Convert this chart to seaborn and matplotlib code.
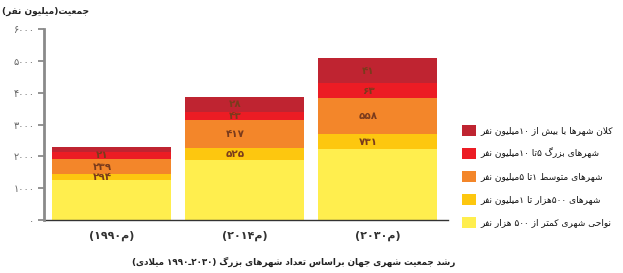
import matplotlib
matplotlib.use("Agg")
from matplotlib import pyplot as plt
from matplotlib.patches import Patch
import pandas as pd
import seaborn as sns

# ---- data (million people) ----
years = ["1990", "2014", "2030"]
under_500k = [1258, 1887, 2223]
k500_to_1m = [189, 388, 482]
m1_to_5 = [461, 870, 1122]
m5_to_10 = [241, 262, 472]
over_10m = [157, 470, 786]

# number of cities written on the bars (None = no label)
count_500k_1m = [294, 525, 731]
count_1_5m = [239, 417, 558]
count_5_10m = [21, 43, 63]
count_over_10m = [None, 28, 41]

legend_labels = [
    "کلان شهرها با بیش از ۱۰میلیون نفر",
    "شهرهای بزرگ ۵تا ۱۰میلیون نفر",
    "شهرهای متوسط ۱تا ۵میلیون نفر",
    "شهرهای ۵۰۰هزار تا ۱میلیون نفر",
    "نواحی شهری کمتر از ۵۰۰ هزار نفر",
]
year_labels = ["(۱۹۹۰م)", "(۲۰۱۴م)", "(۲۰۳۰م)"]
y_title = "جمعیت(میلیون نفر)"
chart_title = "رشد جمعیت شهری جهان براساس تعداد شهرهای بزرگ (۲۰۳۰ـ۱۹۹۰ میلادی)"
y_ticks = [0, 1000, 2000, 3000, 4000, 5000, 6000]

colors = ["#BF2431", "#EC1C24", "#F3862A", "#FDC70F", "#FFEE4E"]  # top -> bottom

# ---- minimal persian shaping + visual ordering (matplotlib has no bidi) ----
FORMS = {  # isolated, final, initial, medial
    "ا": (0xFE8D, 0xFE8E, None, None), "آ": (0xFE81, 0xFE82, None, None),
    "ب": (0xFE8F, 0xFE90, 0xFE91, 0xFE92), "پ": (0xFB56, 0xFB57, 0xFB58, 0xFB59),
    "ت": (0xFE95, 0xFE96, 0xFE97, 0xFE98), "ث": (0xFE99, 0xFE9A, 0xFE9B, 0xFE9C),
    "ج": (0xFE9D, 0xFE9E, 0xFE9F, 0xFEA0), "چ": (0xFB7A, 0xFB7B, 0xFB7C, 0xFB7D),
    "ح": (0xFEA1, 0xFEA2, 0xFEA3, 0xFEA4), "خ": (0xFEA5, 0xFEA6, 0xFEA7, 0xFEA8),
    "د": (0xFEA9, 0xFEAA, None, None), "ذ": (0xFEAB, 0xFEAC, None, None),
    "ر": (0xFEAD, 0xFEAE, None, None), "ز": (0xFEAF, 0xFEB0, None, None),
    "ژ": (0xFB8A, 0xFB8B, None, None),
    "س": (0xFEB1, 0xFEB2, 0xFEB3, 0xFEB4), "ش": (0xFEB5, 0xFEB6, 0xFEB7, 0xFEB8),
    "ص": (0xFEB9, 0xFEBA, 0xFEBB, 0xFEBC), "ض": (0xFEBD, 0xFEBE, 0xFEBF, 0xFEC0),
    "ط": (0xFEC1, 0xFEC2, 0xFEC3, 0xFEC4), "ظ": (0xFEC5, 0xFEC6, 0xFEC7, 0xFEC8),
    "ع": (0xFEC9, 0xFECA, 0xFECB, 0xFECC), "غ": (0xFECD, 0xFECE, 0xFECF, 0xFED0),
    "ف": (0xFED1, 0xFED2, 0xFED3, 0xFED4), "ق": (0xFED5, 0xFED6, 0xFED7, 0xFED8),
    "ک": (0xFB8E, 0xFB8F, 0xFB90, 0xFB91), "گ": (0xFB92, 0xFB93, 0xFB94, 0xFB95),
    "ل": (0xFEDD, 0xFEDE, 0xFEDF, 0xFEE0), "م": (0xFEE1, 0xFEE2, 0xFEE3, 0xFEE4),
    "ن": (0xFEE5, 0xFEE6, 0xFEE7, 0xFEE8), "ه": (0xFEE9, 0xFEEA, 0xFEEB, 0xFEEC),
    "و": (0xFEED, 0xFEEE, None, None),
    "ی": (0xFBFC, 0xFBFD, 0xFBFE, 0xFBFF),
}
TATWEEL = "ـ"
DIGITS = "۰۱۲۳۴۵۶۷۸۹0123456789"


def joins_next(c):
    return c == TATWEEL or (c in FORMS and FORMS[c][2] is not None)


def joins_prev(c):
    return c == TATWEEL or c in FORMS


def shape(text):
    out = []
    i = 0
    while i < len(text):
        c = text[i]
        prev = text[i - 1] if i > 0 else ""
        if c == "ل" and i + 1 < len(text) and text[i + 1] == "ا":
            out.append(chr(0xFEFC if joins_next(prev) else 0xFEFB))
            i += 2
            continue
        if c not in FORMS:
            out.append(c)
            i += 1
            continue
        nxt = text[i + 1] if i + 1 < len(text) else ""
        p = joins_next(prev)
        n = FORMS[c][2] is not None and joins_prev(nxt)
        iso, fin, ini, med = FORMS[c]
        if p and n:
            out.append(chr(med))
        elif p:
            out.append(chr(fin))
        elif n:
            out.append(chr(ini))
        else:
            out.append(chr(iso))
        i += 1
    return "".join(out)


def fa(text):
    s = shape(text)
    runs, cur = [], ""
    for ch in s:
        if cur and ((ch in DIGITS) != (cur[-1] in DIGITS)):
            runs.append(cur)
            cur = ""
        cur += ch
    runs.append(cur)
    mirror = str.maketrans("()", ")(")
    res = []
    for r in reversed(runs):
        if r[0] in DIGITS:
            res.append(r)
        else:
            res.append(r[::-1].translate(mirror))
    return "".join(res)


def fa_num(n):
    return str(n).translate(str.maketrans("0123456789", "۰۱۲۳۴۵۶۷۸۹"))


# ---- plot ----
sns.set_style("white")
plt.rcParams["font.family"] = ["DejaVu Sans"]

layers = [under_500k, k500_to_1m, m1_to_5, m5_to_10, over_10m]
cum = []
run = [0, 0, 0]
for layer in layers:
    run = [a + b for a, b in zip(run, layer)]
    cum.append(run)

df = pd.DataFrame({"year": years})
for k, c in enumerate(cum):
    df[f"c{k}"] = c

fig = plt.figure(figsize=(6.23, 2.73), dpi=100)
ax = fig.add_axes([44 / 623, 53 / 273, 404 / 623, 191 / 273])

# draw from the tallest cumulative stack down so every band stays visible
for k in range(4, -1, -1):
    sns.barplot(data=df, x="year", y=f"c{k}", color=colors[4 - k],
                saturation=1, width=0.89, ax=ax, linewidth=0)

label_rows = [(count_500k_1m, 1), (count_1_5m, 2), (count_5_10m, 3), (count_over_10m, 4)]
for counts, k in label_rows:
    for i, n in enumerate(counts):
        if n is None:
            continue
        mid = (cum[k][i] + cum[k - 1][i]) / 2
        ax.text(i - 0.07, mid, fa_num(n), ha="center", va="center",
                fontsize=7.5, fontweight="bold", color="#7A3B1C")

ax.set_xlim(-0.508, 2.53)
ax.set_ylim(0, 6000)
ax.set_yticks(y_ticks)
ax.set_yticklabels([fa_num(t) for t in y_ticks], fontsize=7, color="#666666")
ax.set_xticks(range(len(years)))
ax.set_xticklabels(year_labels, fontsize=8, fontweight="bold", color="#333333")
ax.set_xlabel("")
ax.set_ylabel("")
ax.tick_params(axis="y", length=4, width=1.2, color="#808080", pad=3, left=True)
ax.tick_params(axis="x", length=0, pad=8)
for side in ["top", "right"]:
    ax.spines[side].set_visible(False)
ax.spines["left"].set_color("#8a8a8a")
ax.spines["left"].set_linewidth(2)
ax.spines["bottom"].set_color("#333333")
ax.spines["bottom"].set_linewidth(1)
ax.spines["left"].set_zorder(5)

handles = [Patch(facecolor=c, edgecolor="none") for c in colors]
fig.legend(handles, [fa(t) for t in legend_labels], loc="upper left",
           bbox_to_anchor=(457 / 623, 1 - 120 / 273), frameon=False,
           prop={"size": 6.5}, handlelength=1.55,
           handleheight=1.55, handletextpad=0.5, labelspacing=1.3,
           borderpad=0, labelcolor="#111111")

fig.text(2 / 623, 1 - 11 / 273, fa(y_title), ha="left", va="center",
         fontsize=6.5, fontweight="bold", color="#222222")
fig.text(294 / 623, 1 - 262 / 273, fa(chart_title), ha="center", va="center",
         fontsize=6.3, fontweight="bold", color="#222222")

plt.savefig("out.png", dpi=100)
plt.close()
